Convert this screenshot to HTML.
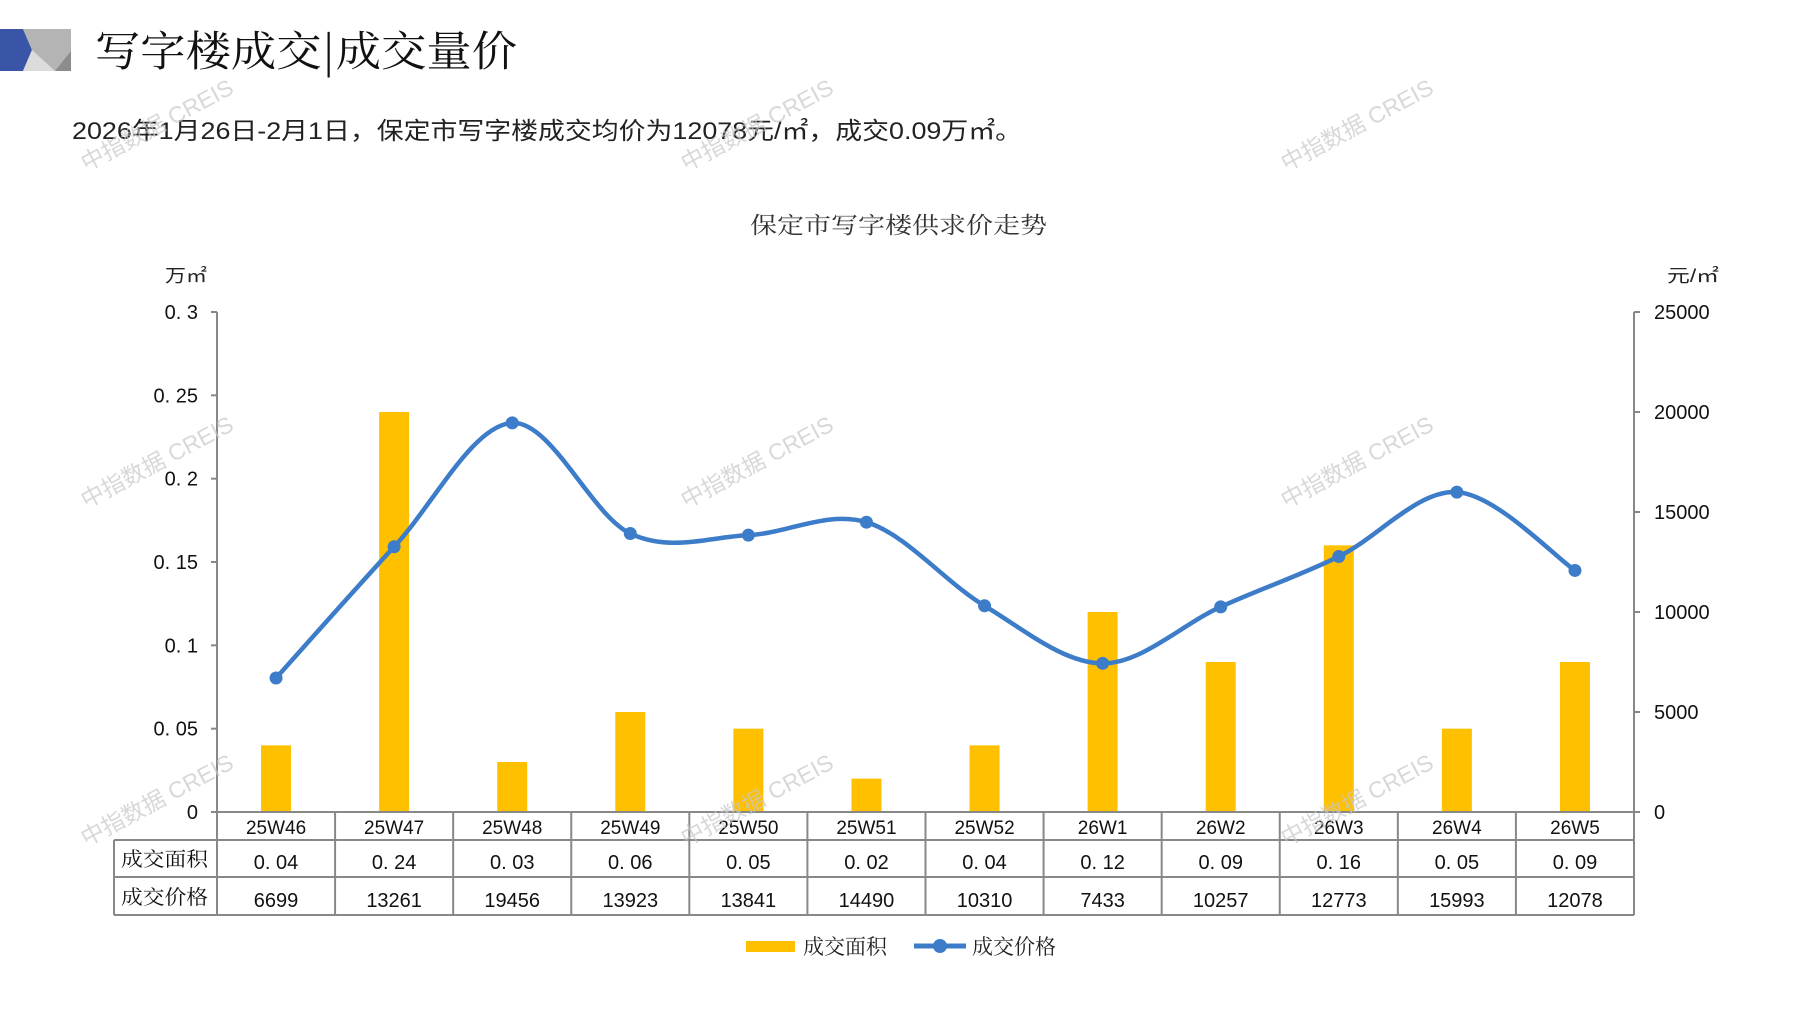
<!DOCTYPE html>
<html><head><meta charset="utf-8"><style>
html,body{margin:0;padding:0;background:#fff;}
svg{display:block;}
text{font-family:"Liberation Sans","Noto Sans CJK SC",sans-serif;}
.cj{font-family:"Noto Serif CJK SC","Liberation Serif",serif;}
</style></head><body>
<svg id="s" width="1797" height="1010" viewBox="0 0 1797 1010" xmlns="http://www.w3.org/2000/svg">
<!-- header logo -->
<rect x="0" y="29" width="71" height="42" fill="#c9c9c9"/>
<polygon points="0,29 23,29 32,50 23,71 0,71" fill="#3a55a8"/>
<polygon points="23,29 71,29 71,51 55,71 23,71 32,50" fill="#b4b4b4"/>
<polygon points="32,50 55,71 23,71" fill="#dcdcdc"/>
<polygon points="71,51 71,71 55,71" fill="#8c8c8c"/>
<text x="95" y="66" class="cj" font-size="42" fill="#111" textLength="422" lengthAdjust="spacingAndGlyphs">写字楼成交|成交量价</text>
<text x="72" y="139" font-size="24" fill="#222" textLength="950" lengthAdjust="spacingAndGlyphs">2026年1月26日-2月1日，保定市写字楼成交均价为12078元/㎡，成交0.09万㎡。</text>
<text x="750" y="233" class="cj" font-size="23" fill="#333" textLength="297" lengthAdjust="spacingAndGlyphs">保定市写字楼供求价走势</text>
<text x="165" y="282" font-size="18" fill="#222" textLength="42" lengthAdjust="spacingAndGlyphs">万㎡</text>
<text x="1667" y="282" font-size="18" fill="#222" textLength="52" lengthAdjust="spacingAndGlyphs">元/㎡</text>
<g id="axes" stroke="#888" stroke-width="2" fill="none">
<line x1="217" y1="312" x2="217" y2="812"/>
<line x1="1634" y1="312" x2="1634" y2="812"/>
</g>
<g id="g"></g>
<!-- legend -->
<rect x="746" y="941" width="49" height="11" fill="#ffc000"/>
<text x="803" y="954" class="cj" font-size="21" fill="#222">成交面积</text>
<line x1="914" y1="946" x2="966" y2="946" stroke="#3d7cc9" stroke-width="5"/>
<circle cx="940" cy="946" r="7" fill="#3d7cc9"/>
<text x="972" y="954" class="cj" font-size="21" fill="#222">成交价格</text>
</svg>
<script>
var NS="http://www.w3.org/2000/svg",g=document.getElementById('g');
function el(t,a,txt){var e=document.createElementNS(NS,t);for(var k in a)e.setAttribute(k,a[k]);if(txt!=null)e.textContent=txt;g.appendChild(e);return e;}
var lab=["25W46","25W47","25W48","25W49","25W50","25W51","25W52","26W1","26W2","26W3","26W4","26W5"];
var area=[0.04,0.24,0.03,0.06,0.05,0.02,0.04,0.12,0.09,0.16,0.05,0.09];
var areaS=["0.04","0.24","0.03","0.06","0.05","0.02","0.04","0.12","0.09","0.16","0.05","0.09"];
var price=[6699,13261,19456,13923,13841,14490,10310,7433,10257,12773,15993,12078];
var L=217,R=1634,cw=(R-L)/12,Y0=812;
for(var i=0;i<=6;i++){var y=Y0-i*500/6;el('line',{x1:L-6,y1:y,x2:L,y2:y,stroke:'#888','stroke-width':2});
 el('text',{x:198,y:y+7,'font-size':20,fill:'#111','text-anchor':'end'},i==0?"0":(i*0.05).toFixed(2).replace(/0$/,'').replace('.','. '));}
for(var i=0;i<=5;i++){var y=Y0-i*100;el('line',{x1:R,y1:y,x2:R+6,y2:y,stroke:'#888','stroke-width':2});
 el('text',{x:1654,y:y+7,'font-size':20,fill:'#111'},String(i*5000));}
var pts=[];
for(var i=0;i<12;i++){var cx=L+cw*(i+0.5),h=area[i]/0.3*500;
 el('rect',{x:cx-15,y:Y0-h,width:30,height:h,fill:'#ffc000'});
 pts.push([cx,Y0-price[i]/50]);}
var gl={stroke:'#888','stroke-width':2};
el('line',Object.assign({x1:L,y1:812,x2:R,y2:812},gl));
el('line',Object.assign({x1:114,y1:840,x2:R,y2:840},gl));
el('line',Object.assign({x1:114,y1:877,x2:R,y2:877},gl));
el('line',Object.assign({x1:114,y1:915,x2:R,y2:915},gl));
el('line',Object.assign({x1:114,y1:840,x2:114,y2:915},gl));
for(var i=0;i<=12;i++){var x=L+cw*i;el('line',Object.assign({x1:x,y1:812,x2:x,y2:915},gl));}
el('text',{x:121,y:866,'font-size':20,fill:'#111','class':'cj',textLength:87,lengthAdjust:'spacingAndGlyphs'},'成交面积');
el('text',{x:121,y:904,'font-size':20,fill:'#111','class':'cj',textLength:87,lengthAdjust:'spacingAndGlyphs'},'成交价格');
for(var i=0;i<12;i++){var cx=L+cw*(i+0.5);
 el('text',{x:cx,y:834,'font-size':19,fill:'#111','text-anchor':'middle'},lab[i]);
 el('text',{x:cx,y:869,'font-size':20,fill:'#111','text-anchor':'middle'},areaS[i].replace('.','. '));
 el('text',{x:cx,y:907,'font-size':20,fill:'#111','text-anchor':'middle'},String(price[i]));}
var d="M"+pts[0][0]+","+pts[0][1];
for(var i=0;i<11;i++){var p0=pts[Math.max(0,i-1)],p1=pts[i],p2=pts[i+1],p3=pts[Math.min(11,i+2)];
 var c1x=p1[0]+(p2[0]-p0[0])/6,c1y=p1[1]+(p2[1]-p0[1])/6,c2x=p2[0]-(p3[0]-p1[0])/6,c2y=p2[1]-(p3[1]-p1[1])/6;
 d+=" C"+c1x+","+c1y+" "+c2x+","+c2y+" "+p2[0]+","+p2[1];}
el('path',{d:d,fill:'none',stroke:'#3d7cc9','stroke-width':4.5,'stroke-linejoin':'round'});
pts.forEach(function(p){el('circle',{cx:p[0],cy:p[1],r:6.5,fill:'#3d7cc9'});});
[[157,125],[757,125],[1357,125],[157,462],[757,462],[1357,462],[157,800],[757,800],[1357,800]].forEach(function(c){
 el('text',{x:c[0],y:c[1]+8,'font-size':23,fill:'#c8c8c8','fill-opacity':0.7,'text-anchor':'middle',transform:'rotate(-28 '+c[0]+' '+c[1]+')'},'中指数据 CREIS');});
</script>
</body></html>
